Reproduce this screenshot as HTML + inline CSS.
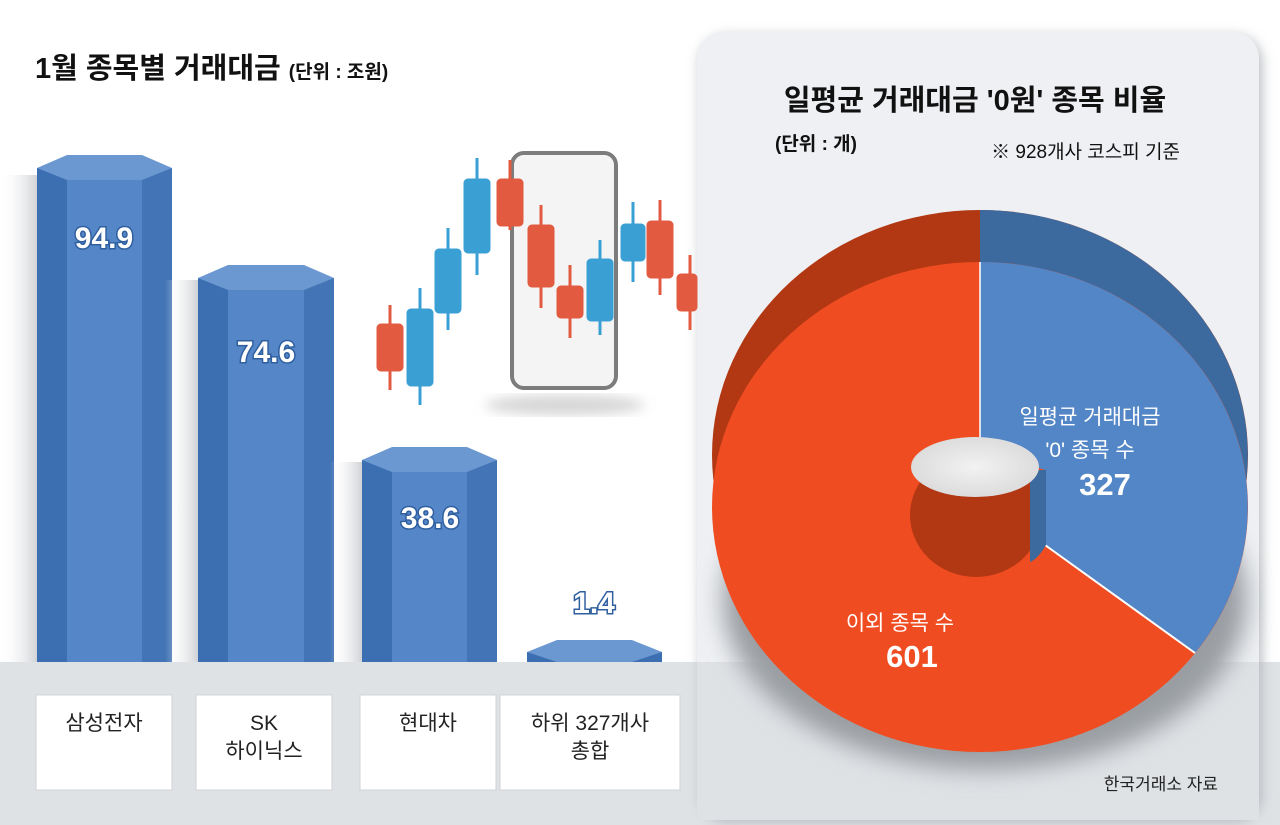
<!DOCTYPE html>
<html><head><meta charset="utf-8"><style>
body{margin:0;background:#fff}
svg{display:block}
text{font-family:"Liberation Sans","Noto Sans CJK KR",sans-serif}
</style></head><body>
<svg width="1280" height="825" viewBox="0 0 1280 825" xmlns="http://www.w3.org/2000/svg">
<defs>
<linearGradient id="sh" x1="0" x2="1"><stop offset="0" stop-color="#fff" stop-opacity="0"/><stop offset="1" stop-color="#c9ccd0"/></linearGradient>
<filter id="ds" x="-10%" y="-10%" width="120%" height="120%"><feGaussianBlur stdDeviation="6"/></filter>
<filter id="ds2" x="-20%" y="-20%" width="140%" height="140%"><feGaussianBlur stdDeviation="12"/></filter>
<radialGradient id="hole" cx="0.5" cy="0.5" r="0.6"><stop offset="0" stop-color="#f2f2f2"/><stop offset="1" stop-color="#d8d8d8"/></radialGradient>
</defs>
<rect width="1280" height="825" fill="#fff"/>
<rect x="0" y="662" width="1280" height="163" fill="#dfe2e5"/>
<!-- right panel -->
<rect x="700" y="36" width="562" height="786" rx="26" fill="#b8bcc0" filter="url(#ds)"/>
<rect x="697" y="32" width="562" height="788" rx="26" fill="#eef0f3"/>
<rect x="697" y="662" width="562" height="158" fill="#dfe2e5"/>
<text x="975" y="110" font-size="29" font-weight="bold" text-anchor="middle" fill="#111">일평균 거래대금 '0원' 종목 비율</text>
<text x="775" y="150" font-size="19" font-weight="bold" fill="#111">(단위 : 개)</text>
<text x="1180" y="158" font-size="19" text-anchor="end" fill="#111">※ 928개사 코스피 기준</text>
<!-- shadow -->
<ellipse cx="985" cy="600" rx="262" ry="170" fill="#9a9ea3" filter="url(#ds2)"/>
<!-- donut back -->
<ellipse cx="980" cy="455" rx="268" ry="245" fill="#b23814"/>
<path d="M980 455 L980 210 A268 245 0 0 1 1195 601 Z" fill="#3c6a9e"/>
<!-- donut front -->
<ellipse cx="980" cy="507" rx="268" ry="245" fill="#f04c22"/>
<path d="M980 262 A268 245 0 0 1 1195 653 L1045 545 L1045 470 L980 450 Z" fill="#5286c6"/>
<path d="M1195 653 L1045 545" stroke="#fff" stroke-width="2"/>
<line x1="980" y1="262" x2="980" y2="450" stroke="#fff" stroke-width="1.5"/>
<!-- hole -->
<ellipse cx="976" cy="515" rx="66" ry="62" fill="#b23814"/>
<path d="M1030 470 L1046 470 L1046 545 C1040 555 1035 560 1030 562 Z" fill="#3c6a9e"/>
<ellipse cx="975" cy="467" rx="64" ry="30" fill="url(#hole)"/>
<text x="1090" y="424" font-size="21" text-anchor="middle" fill="#fff">일평균 거래대금</text>
<text x="1090" y="457" font-size="21" text-anchor="middle" fill="#fff">'0' 종목 수</text>
<text x="1105" y="495" font-size="31" font-weight="bold" text-anchor="middle" fill="#fff">327</text>
<text x="900" y="630" font-size="21" text-anchor="middle" fill="#fff">이외 종목 수</text>
<text x="912" y="667" font-size="31" font-weight="bold" text-anchor="middle" fill="#fff">601</text>
<text x="1218" y="790" font-size="17" text-anchor="end" fill="#222">한국거래소 자료</text>
<!-- left title -->
<text x="35" y="78" font-size="29" font-weight="bold" fill="#111">1월 종목별 거래대금 <tspan font-size="19">(단위 : 조원)</tspan></text>
<!-- phone -->
<ellipse cx="565" cy="405" rx="80" ry="10" fill="#d5d5d5" filter="url(#ds)"/>
<rect x="512" y="153" width="104" height="235" rx="12" fill="#f4f4f4" stroke="#7c7c7c" stroke-width="4"/>
<!-- candles -->
<g stroke-width="3">
<g fill="#e25a40" stroke="#e25a40"><line x1="390" y1="305" x2="390" y2="390"/><rect x="378" y="325" width="24" height="45" rx="3"/></g>
<g fill="#3aa0d4" stroke="#3aa0d4"><line x1="420" y1="288" x2="420" y2="405"/><rect x="408" y="310" width="24" height="75" rx="3"/>
<line x1="448" y1="228" x2="448" y2="330"/><rect x="436" y="250" width="24" height="62" rx="3"/>
<line x1="477" y1="158" x2="477" y2="275"/><rect x="465" y="180" width="24" height="72" rx="3"/>
<line x1="600" y1="240" x2="600" y2="335"/><rect x="588" y="260" width="24" height="60" rx="3"/>
<line x1="633" y1="202" x2="633" y2="282"/><rect x="622" y="225" width="22" height="35" rx="3"/></g>
<g fill="#e25a40" stroke="#e25a40"><line x1="510" y1="160" x2="510" y2="230"/><rect x="498" y="180" width="24" height="45" rx="3"/>
<line x1="541" y1="205" x2="541" y2="308"/><rect x="529" y="226" width="24" height="60" rx="3"/>
<line x1="570" y1="265" x2="570" y2="338"/><rect x="558" y="287" width="24" height="30" rx="3"/>
<line x1="660" y1="200" x2="660" y2="295"/><rect x="648" y="222" width="24" height="55" rx="3"/>
<line x1="690" y1="255" x2="690" y2="330"/><rect x="678" y="275" width="18" height="35" rx="3"/></g>
</g>
<!-- bars -->
<g>
<rect x="0" y="175" width="40" height="487" fill="url(#sh)"/>
<rect x="37" y="168" width="30" height="494" fill="#3c6fb1"/><rect x="67" y="168" width="75" height="494" fill="#5486c8"/><rect x="142" y="168" width="30" height="494" fill="#4374b5"/>
<polygon points="37,168 67,155 142,155 172,168 142,180 67,180" fill="#6c98d2"/>
<text x="104" y="248" font-size="30" font-weight="bold" text-anchor="middle" fill="#fff" stroke="#2f5f9f" stroke-width="3" paint-order="stroke">94.9</text>

<rect x="165" y="280" width="35" height="382" fill="url(#sh)"/>
<rect x="198" y="278" width="30" height="384" fill="#3c6fb1"/><rect x="228" y="278" width="76" height="384" fill="#5486c8"/><rect x="304" y="278" width="30" height="384" fill="#4374b5"/>
<polygon points="198,278 228,265 304,265 334,278 304,290 228,290" fill="#6c98d2"/>
<text x="266" y="362" font-size="30" font-weight="bold" text-anchor="middle" fill="#fff" stroke="#2f5f9f" stroke-width="3" paint-order="stroke">74.6</text>

<rect x="330" y="462" width="34" height="200" fill="url(#sh)"/>
<rect x="362" y="460" width="30" height="202" fill="#3c6fb1"/><rect x="392" y="460" width="75" height="202" fill="#5486c8"/><rect x="467" y="460" width="30" height="202" fill="#4374b5"/>
<polygon points="362,460 392,447 467,447 497,460 467,472 392,472" fill="#6c98d2"/>
<text x="430" y="528" font-size="30" font-weight="bold" text-anchor="middle" fill="#fff" stroke="#2f5f9f" stroke-width="3" paint-order="stroke">38.6</text>

<rect x="527" y="652" width="135" height="10" fill="#3c6fb1"/>
<polygon points="527,652 557,640 632,640 662,652 632,662 557,662" fill="#6c98d2"/>
<text x="594" y="613" font-size="30" font-weight="bold" text-anchor="middle" fill="#fff" stroke="#2f5f9f" stroke-width="3" paint-order="stroke">1.4</text>
</g>
<!-- label boxes -->
<g fill="#fff" stroke="#d0d3d6">
<rect x="36" y="695" width="136" height="95"/><rect x="196" y="695" width="136" height="95"/><rect x="360" y="695" width="136" height="95"/><rect x="500" y="695" width="180" height="95"/>
</g>
<g font-size="21" text-anchor="middle" fill="#222">
<text x="104" y="730">삼성전자</text>
<text x="264" y="730">SK</text><text x="264" y="758">하이닉스</text>
<text x="428" y="730">현대차</text>
<text x="590" y="730">하위 327개사</text><text x="590" y="758">총합</text>
</g>
</svg>
</body></html>
